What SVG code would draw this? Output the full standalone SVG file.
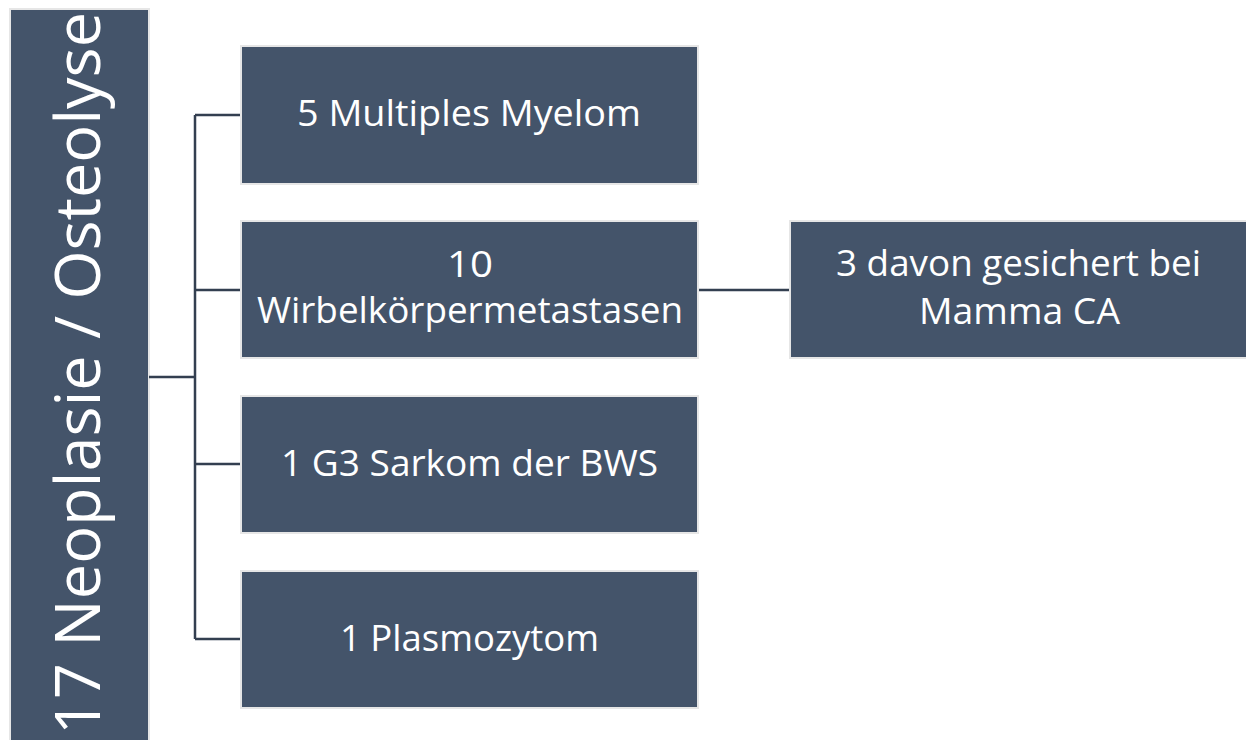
<svg xmlns="http://www.w3.org/2000/svg" width="1246" height="740" viewBox="0 0 1246 740">
<style>
.box{fill:#44546a;stroke:#e6e6e6;stroke-width:2}
.t{fill:#ffffff;font-family:"Open Sans","Liberation Sans",sans-serif;font-size:36px;text-anchor:middle}
.c{stroke:#333f50;stroke-width:2.5;fill:none}
</style>
<rect x="0" y="0" width="1246" height="740" fill="#ffffff"/>
<g id="root">
<rect class="box" x="10" y="9" width="139" height="740"/>
<text class="t" style="font-size:62px" transform="translate(100,373.5) rotate(-90)" textLength="723" lengthAdjust="spacingAndGlyphs">17 Neoplasie / Osteolyse</text>
</g>
<g id="connectors">
<path class="c" d="M149 377 H195 M195 115 V639 M195 115 H241 M195 290 H241 M195 464 H241 M195 639 H241 M698 290 H790"/>
</g>
<g id="n1">
<rect class="box" x="241" y="46" width="457" height="138"/>
<text class="t" x="469" y="126" textLength="344" lengthAdjust="spacingAndGlyphs">5 Multiples Myelom</text>
</g>
<g id="n2">
<rect class="box" x="241" y="221" width="457" height="137"/>
<text class="t" x="470" y="277" textLength="46" lengthAdjust="spacingAndGlyphs">10</text>
<text class="t" x="470" y="323" textLength="426" lengthAdjust="spacingAndGlyphs">Wirbelkörpermetastasen</text>
</g>
<g id="n3">
<rect class="box" x="241" y="396" width="457" height="137"/>
<text class="t" x="469.5" y="476" textLength="377" lengthAdjust="spacingAndGlyphs">1 G3 Sarkom der BWS</text>
</g>
<g id="n4">
<rect class="box" x="241" y="571" width="457" height="137"/>
<text class="t" x="469.5" y="651" textLength="259" lengthAdjust="spacingAndGlyphs">1 Plasmozytom</text>
</g>
<g id="n5">
<rect class="box" x="790" y="221" width="457" height="137"/>
<text class="t" x="1018.5" y="276" textLength="365" lengthAdjust="spacingAndGlyphs">3 davon gesichert bei</text>
<text class="t" x="1019.5" y="324" textLength="201" lengthAdjust="spacingAndGlyphs">Mamma CA</text>
</g>
</svg>
